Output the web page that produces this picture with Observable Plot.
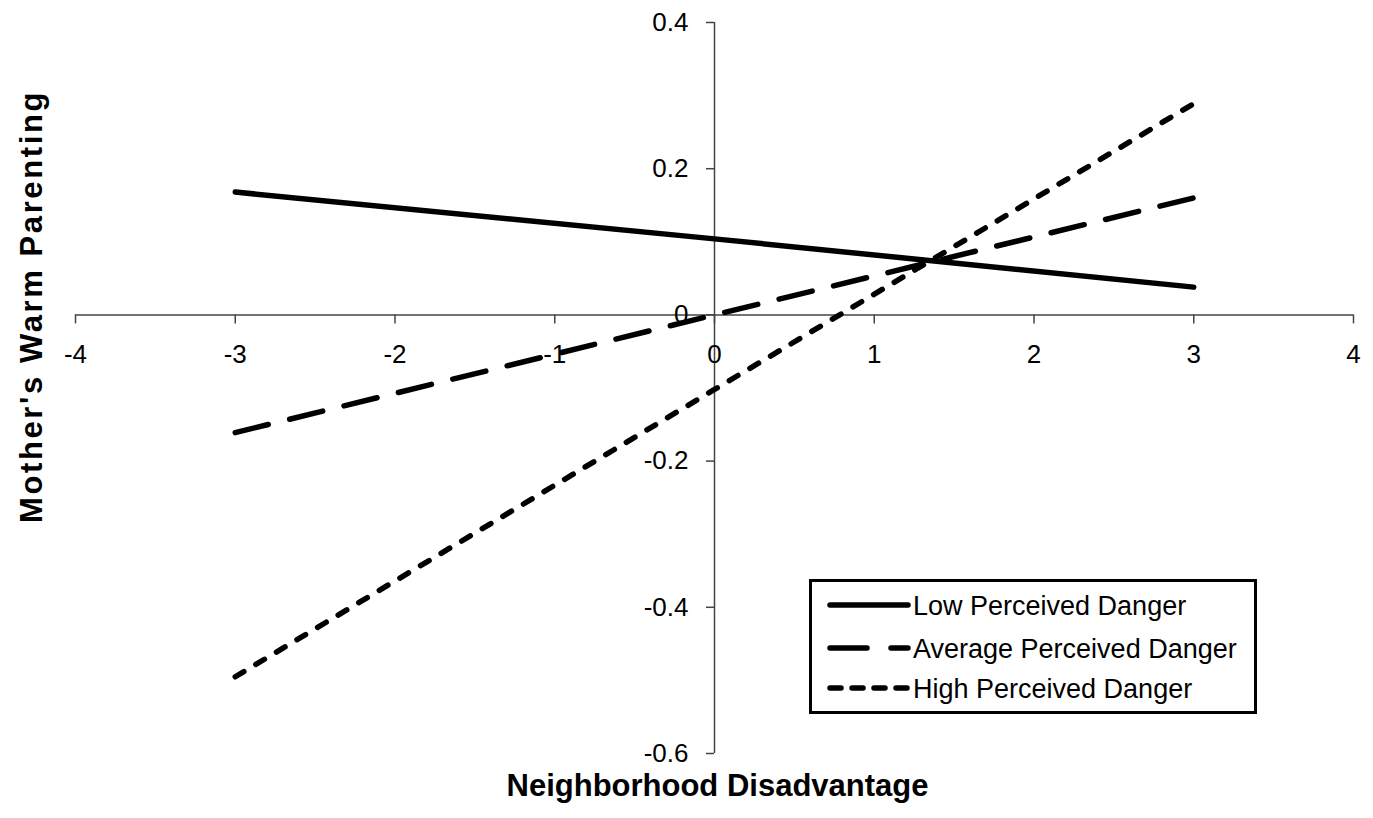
<!DOCTYPE html>
<html>
<head>
<meta charset="utf-8">
<script src="https://cdn.jsdelivr.net/npm/d3@7"></script>
<script src="https://cdn.jsdelivr.net/npm/@observablehq/plot@0.6"></script>
<style>
  html, body { margin: 0; padding: 0; background: #fff; }
  #wrap { position: relative; width: 1373px; height: 818px; font-family: "Liberation Sans", Arial, sans-serif; }
  #legend { position: absolute; left: 809px; top: 579px; }
</style>
</head>
<body>
<div id="wrap"></div>
<script>
// ---- data ----
const xValues = [-3, 0, 3];
const lowDanger = [0.168, 0.104, 0.038];
const averageDanger = [-0.161, 0.0, 0.160];
const highDanger = [-0.495, -0.102, 0.289];
const seriesNames = ["Low Perceived Danger", "Average Perceived Danger", "High Perceived Danger"];
const xTicks = [-4, -3, -2, -1, 0, 1, 2, 3, 4];
const xTickLabels = ["-4", "-3", "-2", "-1", "0", "1", "2", "3", "4"];
const yTicks = [0.4, 0.2, 0, -0.2, -0.4, -0.6];
const yTickLabels = ["0.4", "0.2", "0", "-0.2", "-0.4", "-0.6"];
const xTitle = "Neighborhood Disadvantage";
const yTitle = "Mother's Warm Parenting";

// ---- styles per series ----
const dashes = [null, "34,22", "10,14"];
const seriesValues = [lowDanger, averageDanger, highDanger];
const rows = [];
seriesValues.forEach((vals, s) => vals.forEach((v, i) => rows.push({series: seriesNames[s], x: xValues[i], y: v})));

const font = "\"Liberation Sans\", Arial, sans-serif";
const axisColor = "#444";

const lineMarks = seriesNames.map((name, s) =>
  Plot.line(rows.filter(d => d.series === name), {
    x: "x", y: "y", stroke: "#000", strokeWidth: 5.5,
    strokeLinecap: "round",
    strokeDasharray: dashes[s] || undefined
  })
);

const chart = Plot.plot({
  width: 1373,
  height: 818,
  marginLeft: 75,
  marginRight: 20,
  marginTop: 22,
  marginBottom: 65,
  x: {domain: [-4, 4], axis: null},
  y: {domain: [-0.6, 0.4], axis: null},
  style: {fontFamily: font, background: "#fff", color: "#000"},
  marks: [
    // axes lines crossing at origin
    Plot.ruleY([0], {x1: -4, x2: 4, stroke: axisColor, strokeWidth: 1.5}),
    Plot.ruleX([0], {y1: -0.6, y2: 0.4, stroke: axisColor, strokeWidth: 1.5}),
    // tick marks
    Plot.ruleX(xTicks, {x: d => d, y1: 0, y2: 0, insetBottom: -9, stroke: axisColor, strokeWidth: 1.5}),
    Plot.ruleY(yTicks, {y: d => d, x1: 0, x2: 0, insetLeft: -8, stroke: axisColor, strokeWidth: 1.5}),
    // tick labels
    Plot.text(xTicks, {x: d => d, y: 0, dy: 40, text: (d, i) => xTickLabels[i], fontSize: 26, fill: "#000"}),
    Plot.text(yTicks, {x: 0, y: d => d, dx: -26, textAnchor: "end", text: (d, i) => yTickLabels[i], fontSize: 26, fill: "#000"}),
    // lines
    ...lineMarks,
    // axis titles
    Plot.text([xTitle], {frameAnchor: "bottom", text: d => d, dy: 42, dx: 3, fontSize: 31, fontWeight: "bold", fill: "#000"}),
    Plot.text([yTitle], {frameAnchor: "left", textAnchor: "middle", text: d => d, rotate: -90, dx: -43, dy: -81.5, fontSize: 31, fontWeight: "bold", fill: "#000"})
  ]
});

const wrap = document.getElementById("wrap");
wrap.appendChild(chart);
d3.select(chart).selectAll("text").filter(function() { return this.textContent === yTitle; }).style("letter-spacing", "2.6px");

// ---- legend (separate element placed over the chart) ----
const lw = 448, lh = 135;
const legend = d3.select(wrap).append("svg")
  .attr("id", "legend")
  .attr("width", lw).attr("height", lh)
  .style("font-family", font);
legend.append("rect")
  .attr("x", 1.5).attr("y", 1.5).attr("width", lw - 3).attr("height", lh - 3)
  .attr("fill", "#fff").attr("stroke", "#000").attr("stroke-width", 3);
const rowY = [26, 69, 109];
const legendDash = [null, "37,24", "11,11"];
seriesNames.forEach((name, s) => {
  legend.append("line")
    .attr("x1", 21).attr("x2", 99)
    .attr("y1", rowY[s]).attr("y2", rowY[s])
    .attr("stroke", "#000").attr("stroke-width", 5.5)
    .attr("stroke-linecap", "round")
    .attr("stroke-dasharray", legendDash[s]);
  legend.append("text")
    .attr("x", 104).attr("y", rowY[s] + 10)
    .attr("font-size", 27)
    .attr("fill", "#000")
    .text(name);
});
</script>
</body>
</html>
